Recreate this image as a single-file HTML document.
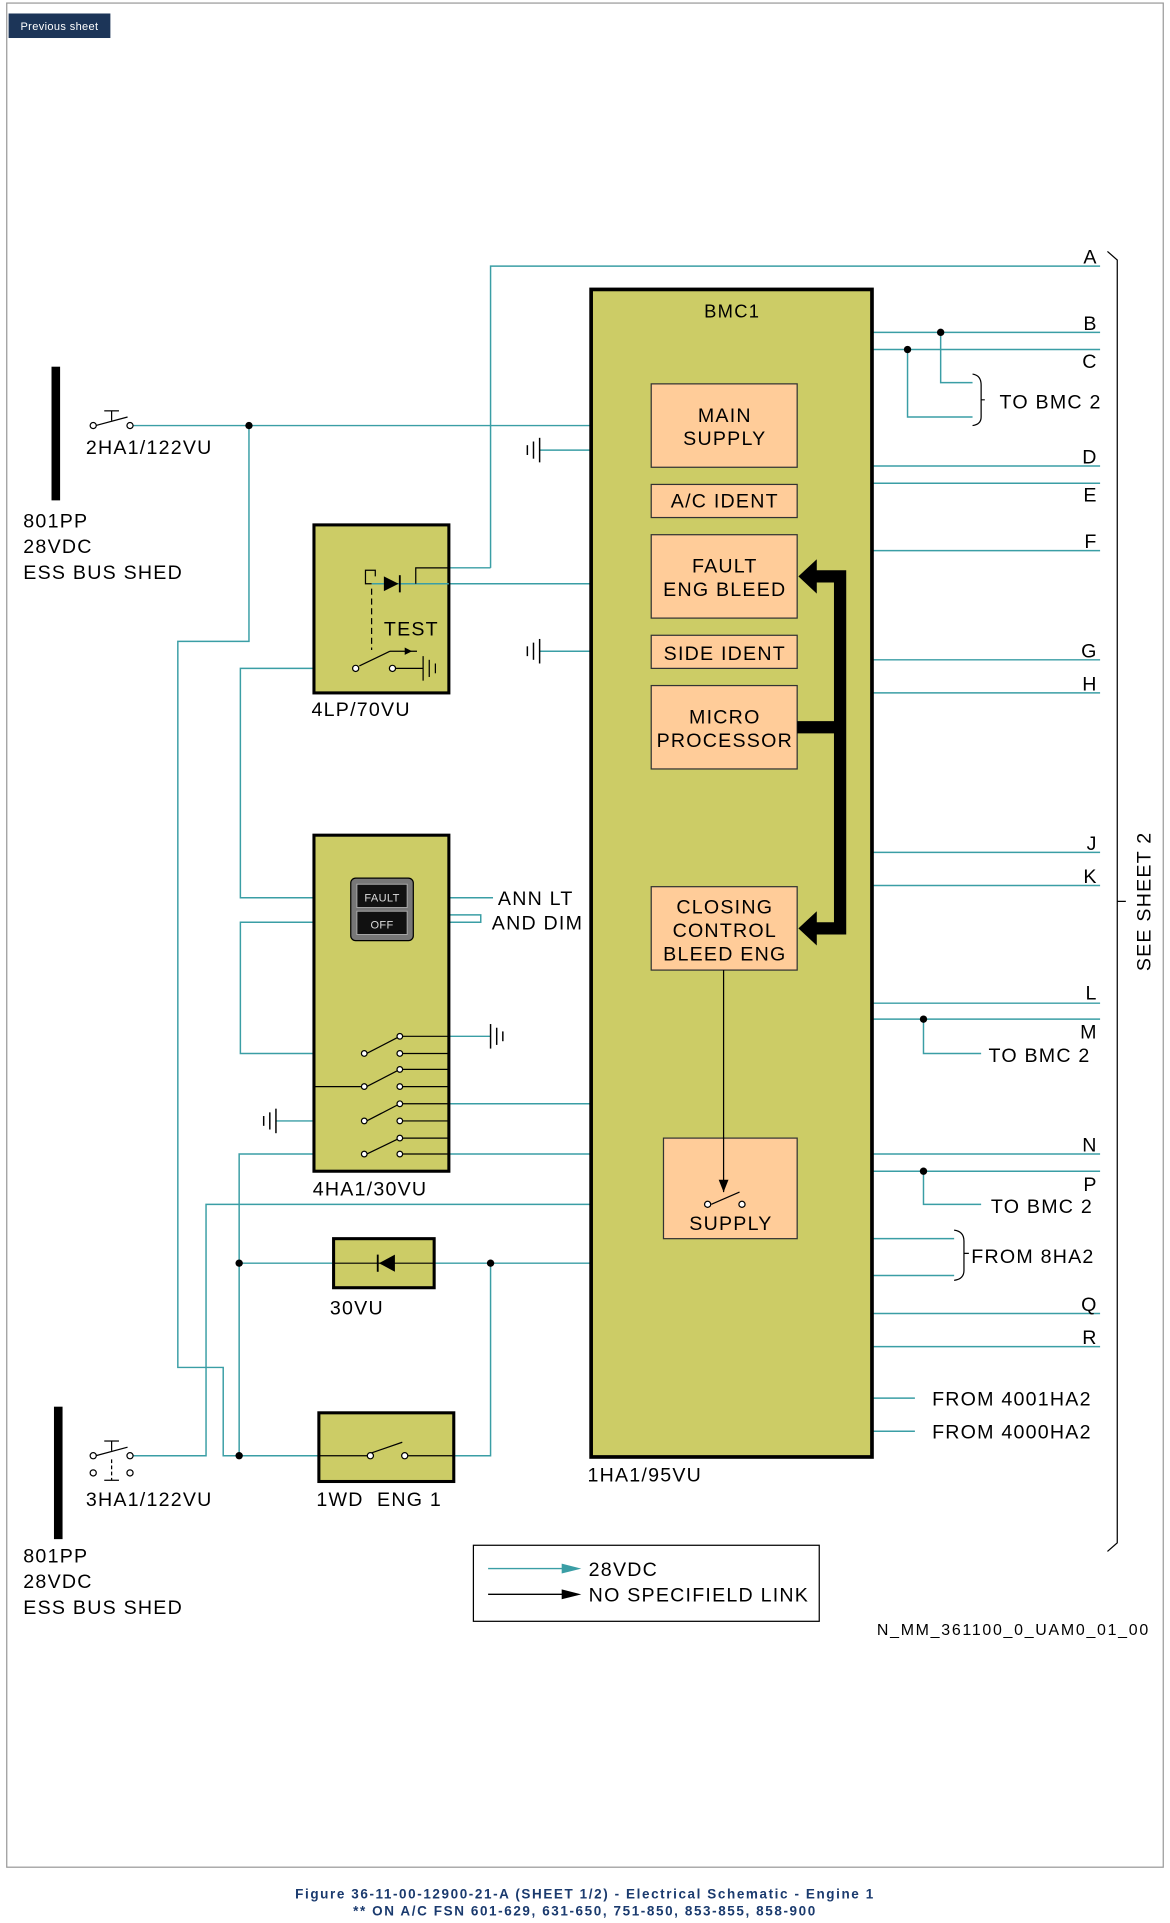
<!DOCTYPE html>
<html><head><meta charset="utf-8"><style>
html,body{margin:0;padding:0;background:#fff}
svg{display:block}
text{font-family:"Liberation Sans","DejaVu Sans",sans-serif;letter-spacing:1px}
</style></head><body>
<svg width="1170" height="1923" viewBox="0 0 954 1568" xmlns="http://www.w3.org/2000/svg">
<rect x="0" y="0" width="954" height="1568" fill="#fff"/>
<rect x="5.5" y="2.5" width="943" height="1520" fill="none" stroke="#999" stroke-width="1"/>
<rect x="7" y="11" width="83" height="20" fill="#1c3558"/>
<text x="48.5" y="24.5" font-size="9" fill="#fff" text-anchor="middle" style="letter-spacing:0.3px">Previous sheet</text>

<g fill="none" stroke="#3a9ea5" stroke-width="1.2">
<polyline points="400,463 400,217 897,217"/>
<line x1="711" y1="271" x2="897" y2="271"/>
<line x1="711" y1="285" x2="897" y2="285"/>
<polyline points="767,271 767,312 793,312"/>
<polyline points="740,285 740,340 793,340"/>
<line x1="711" y1="380" x2="897" y2="380"/>
<line x1="711" y1="394" x2="897" y2="394"/>
<line x1="711" y1="449" x2="897" y2="449"/>
<line x1="711" y1="538" x2="897" y2="538"/>
<line x1="711" y1="565" x2="897" y2="565"/>
<line x1="711" y1="695" x2="897" y2="695"/>
<line x1="711" y1="722" x2="897" y2="722"/>
<line x1="711" y1="818" x2="897" y2="818"/>
<line x1="711" y1="831" x2="897" y2="831"/>
<polyline points="753,831 753,859 800,859"/>
<line x1="711" y1="941" x2="897" y2="941"/>
<line x1="711" y1="955" x2="897" y2="955"/>
<polyline points="753,955 753,982 800,982"/>
<line x1="711" y1="1010" x2="778" y2="1010"/>
<line x1="711" y1="1040" x2="778" y2="1040"/>
<line x1="711" y1="1071" x2="897" y2="1071"/>
<line x1="711" y1="1098" x2="897" y2="1098"/>
<line x1="711" y1="1140" x2="746" y2="1140"/>
<line x1="711" y1="1167" x2="746" y2="1167"/>
<line x1="108" y1="347" x2="531" y2="347"/>
<polyline points="203,347 203,523 145,523 145,1115 182,1115 182,1187 260,1187"/>
<polyline points="440,367 531,367"/>
<polyline points="440,531 531,531"/>
<polyline points="400,463 366,463"/>
<line x1="303" y1="476" x2="531" y2="476"/>
<polyline points="290,545 196,545 196,732 286,732"/>
<polyline points="286,752 196,752 196,859 296,859"/>
<line x1="337" y1="732" x2="402" y2="732"/>
<polyline points="337,752 392,752 392,746 352,746"/>
<line x1="366" y1="900" x2="482" y2="900"/>
<line x1="225" y1="914" x2="296" y2="914"/>
<line x1="366" y1="845" x2="400" y2="845"/>
<polyline points="195,1187 195,941 618,941 618,982 605,982"/>
<polyline points="577,982 168,982 168,1187 108,1187"/>
<line x1="195" y1="1030" x2="272" y2="1030"/>
<line x1="354" y1="1030" x2="482" y2="1030"/>
<polyline points="370,1187 400,1187 400,1030"/>
</g>

<rect x="482" y="236" width="229" height="952" fill="#cccc66" stroke="#000" stroke-width="3"/>
<text x="597" y="259" font-size="15" text-anchor="middle">BMC1</text>
<g fill="#ffcc99" stroke="#333" stroke-width="1">
<rect x="531" y="313" width="119" height="68"/>
<rect x="531" y="395" width="119" height="27"/>
<rect x="531" y="436" width="119" height="68"/>
<rect x="531" y="518" width="119" height="27"/>
<rect x="531" y="559" width="119" height="68"/>
<rect x="531" y="723" width="119" height="68"/>
<rect x="541" y="928" width="109" height="82"/>
</g>
<g font-size="16" text-anchor="middle">
<text x="591" y="344">MAIN</text><text x="591" y="363">SUPPLY</text>
<text x="591" y="414">A/C IDENT</text>
<text x="591" y="467">FAULT</text><text x="591" y="486">ENG BLEED</text>
<text x="591" y="538">SIDE IDENT</text>
<text x="591" y="590">MICRO</text><text x="591" y="609">PROCESSOR</text>
<text x="591" y="745">CLOSING</text><text x="591" y="764">CONTROL</text><text x="591" y="783">BLEED ENG</text>
<text x="596" y="1003">SUPPLY</text>
</g>
<line x1="590" y1="791" x2="590" y2="972" stroke="#000" stroke-width="1"/>
<polygon points="586,962 594,962 590,972" fill="#000"/>
<line x1="580" y1="982" x2="603" y2="972" stroke="#000" stroke-width="1"/>
<circle cx="577" cy="982" r="2.5" fill="#fff" stroke="#000"/><circle cx="605" cy="982" r="2.5" fill="#fff" stroke="#000"/>
<polyline points="665,470 685,470 685,757 665,757" fill="none" stroke="#000" stroke-width="10"/>
<line x1="650" y1="593" x2="685" y2="593" stroke="#000" stroke-width="10"/>
<polygon points="651,470 666,456 666,484" fill="#000"/>
<polygon points="651,757 666,743 666,771" fill="#000"/>

<g font-size="16" text-anchor="end">
<text x="895" y="215">A</text><text x="895" y="269">B</text><text x="895" y="300">C</text>
<text x="895" y="378">D</text><text x="895" y="409">E</text><text x="895" y="447">F</text>
<text x="895" y="536">G</text><text x="895" y="563">H</text><text x="895" y="693">J</text>
<text x="895" y="720">K</text><text x="895" y="815">L</text><text x="895" y="847">M</text>
<text x="895" y="939">N</text><text x="895" y="971">P</text><text x="895" y="1069">Q</text>
<text x="895" y="1096">R</text>
</g>
<g font-size="16">
<text x="815" y="333">TO BMC 2</text><text x="806" y="866">TO BMC 2</text><text x="808" y="989">TO BMC 2</text>
<text x="792" y="1030">FROM 8HA2</text><text x="760" y="1146">FROM 4001HA2</text><text x="760" y="1173">FROM 4000HA2</text>
</g>
<g fill="none" stroke="#000" stroke-width="1">
<path d="M793,305 Q800,306 800,314 L800,326 L803,326 L800,326 L800,340 Q800,346 793,347"/>
<path d="M778,1003 Q786,1004 786,1012 L786,1022 L790,1022 L786,1022 L786,1036 Q786,1043 778,1044"/>
<path d="M903,205 L911,212 L911,735 L918,735 L911,735 L911,1258 L903,1265"/>
</g>
<text transform="translate(938,735) rotate(-90)" font-size="16" text-anchor="middle">SEE SHEET 2</text>

<g fill="#000">
<circle cx="767" cy="271" r="3"/><circle cx="740" cy="285" r="3"/><circle cx="753" cy="831" r="3"/><circle cx="753" cy="955" r="3"/>
<circle cx="203" cy="347" r="3"/><circle cx="339" cy="463" r="3"/><circle cx="352" cy="732" r="3"/><circle cx="352" cy="752" r="3"/>
<circle cx="195" cy="1030" r="3"/><circle cx="400" cy="1030" r="3"/><circle cx="195" cy="1187" r="3"/>
</g>

<rect x="42" y="299" width="7" height="109" fill="#000"/>
<rect x="44" y="1147" width="7" height="108" fill="#000"/>
<g fill="none" stroke="#000" stroke-width="1">
<line x1="78" y1="347" x2="104" y2="340"/><line x1="91" y1="343" x2="91" y2="335"/><line x1="85" y1="335" x2="97" y2="335"/>
<line x1="78" y1="1187" x2="104" y2="1180"/><line x1="91" y1="1183" x2="91" y2="1175"/><line x1="85" y1="1175" x2="97" y2="1175"/>
<line x1="91" y1="1190" x2="91" y2="1207" stroke-dasharray="3,2"/><line x1="85" y1="1207" x2="97" y2="1207"/>
</g>
<g fill="#fff" stroke="#000"><circle cx="76" cy="347" r="2.5"/><circle cx="106" cy="347" r="2.5"/><circle cx="76" cy="1187" r="2.5"/><circle cx="106" cy="1187" r="2.5"/><circle cx="76" cy="1201" r="2.5"/><circle cx="106" cy="1201" r="2.5"/></g>
<g font-size="16">
<text x="70" y="370">2HA1/122VU</text>
<text x="19" y="430">801PP</text><text x="19" y="451">28VDC</text><text x="19" y="472">ESS BUS SHED</text>
<text x="70" y="1228">3HA1/122VU</text>
<text x="19" y="1274">801PP</text><text x="19" y="1295">28VDC</text><text x="19" y="1316">ESS BUS SHED</text>
</g>

<g stroke="#000" stroke-width="1.2">
<line x1="440" y1="357" x2="440" y2="377"/><line x1="435" y1="360" x2="435" y2="374"/><line x1="430" y1="363" x2="430" y2="371"/>
<line x1="440" y1="521" x2="440" y2="541"/><line x1="435" y1="524" x2="435" y2="538"/><line x1="430" y1="527" x2="430" y2="535"/>
<line x1="400" y1="835" x2="400" y2="855"/><line x1="405" y1="838" x2="405" y2="852"/><line x1="410" y1="841" x2="410" y2="849"/>
<line x1="225" y1="904" x2="225" y2="924"/><line x1="220" y1="907" x2="220" y2="921"/><line x1="215" y1="910" x2="215" y2="918"/>
</g>

<rect x="256" y="428" width="110" height="137" fill="#cccc66" stroke="#000" stroke-width="2.5"/>
<g stroke="#000" fill="none" stroke-width="1">
<line x1="303" y1="476" x2="366" y2="476" stroke="#3a9ea5" stroke-width="1.2"/>
<polyline points="366,463 339,463 339,476"/>
<path d="M303,476 L298,476 L298,465 L306,465 L306,470"/>
<line x1="303" y1="480" x2="303" y2="530" stroke-dasharray="5,3"/>
<line x1="293" y1="543" x2="318" y2="531"/>
<line x1="318" y1="531" x2="340" y2="531"/>
<line x1="345" y1="535" x2="345" y2="555"/><line x1="350" y1="538" x2="350" y2="552"/><line x1="355" y1="541" x2="355" y2="549"/>
<line x1="320" y1="545" x2="345" y2="545"/>
</g>
<polygon points="313,470 313,482 325,476" fill="#000"/><line x1="326" y1="469" x2="326" y2="483" stroke="#000" stroke-width="1.5"/>
<polygon points="330,528 336,531 330,534" fill="#000"/>
<g fill="#fff" stroke="#000"><circle cx="290" cy="545" r="2.5"/><circle cx="320" cy="545" r="2.5"/></g>
<text x="313" y="518" font-size="16">TEST</text>
<text x="254" y="584" font-size="16">4LP/70VU</text>

<rect x="256" y="681" width="110" height="274" fill="#cccc66" stroke="#000" stroke-width="2.5"/>
<rect x="286" y="716" width="51" height="51" rx="4" fill="#777" stroke="#000"/>
<rect x="291" y="721" width="41" height="19" fill="#111" stroke="#aaa" stroke-width="0.8"/>
<rect x="291" y="743" width="41" height="19" fill="#111" stroke="#aaa" stroke-width="0.8"/>
<text x="311.5" y="735" font-size="9" fill="#ddd" text-anchor="middle" style="letter-spacing:0.3px">FAULT</text>
<text x="311.5" y="757" font-size="9" fill="#ddd" text-anchor="middle" style="letter-spacing:0.3px">OFF</text>
<g stroke="#000" stroke-width="1" fill="none">
<line x1="299" y1="859" x2="326" y2="845"/><line x1="299" y1="886" x2="326" y2="872"/>
<line x1="299" y1="914" x2="326" y2="900"/><line x1="299" y1="941" x2="326" y2="928"/>
<line x1="328" y1="845" x2="366" y2="845"/><line x1="328" y1="859" x2="366" y2="859"/>
<line x1="328" y1="872" x2="366" y2="872"/><line x1="328" y1="886" x2="366" y2="886"/>
<line x1="328" y1="900" x2="366" y2="900"/><line x1="328" y1="914" x2="366" y2="914"/>
<line x1="328" y1="928" x2="366" y2="928"/><line x1="328" y1="941" x2="366" y2="941"/>
<line x1="256" y1="886" x2="296" y2="886"/>
</g>
<g fill="#fff" stroke="#000">
<circle cx="297" cy="859" r="2.3"/><circle cx="297" cy="886" r="2.3"/><circle cx="297" cy="914" r="2.3"/><circle cx="297" cy="941" r="2.3"/>
<circle cx="326" cy="845" r="2.3"/><circle cx="326" cy="859" r="2.3"/><circle cx="326" cy="872" r="2.3"/><circle cx="326" cy="886" r="2.3"/>
<circle cx="326" cy="900" r="2.3"/><circle cx="326" cy="914" r="2.3"/><circle cx="326" cy="928" r="2.3"/><circle cx="326" cy="941" r="2.3"/>
</g>
<text x="406" y="738" font-size="16">ANN LT</text><text x="401" y="758" font-size="16">AND DIM</text>
<text x="255" y="975" font-size="16">4HA1/30VU</text>

<rect x="272" y="1010" width="82" height="40" fill="#cccc66" stroke="#000" stroke-width="2.5"/>
<line x1="272" y1="1030" x2="354" y2="1030" stroke="#000"/>
<polygon points="322,1023 322,1037 309,1030" fill="#000"/><line x1="308" y1="1023" x2="308" y2="1037" stroke="#000" stroke-width="1.5"/>
<text x="269" y="1072" font-size="16">30VU</text>

<rect x="260" y="1152" width="110" height="56" fill="#cccc66" stroke="#000" stroke-width="2.5"/>
<g stroke="#000" fill="none"><line x1="260" y1="1187" x2="300" y2="1187"/><line x1="302" y1="1185" x2="328" y2="1176"/><line x1="330" y1="1187" x2="370" y2="1187"/></g>
<g fill="#fff" stroke="#000"><circle cx="302" cy="1187" r="2.5"/><circle cx="330" cy="1187" r="2.5"/></g>
<text x="258" y="1228" font-size="16" xml:space="preserve">1WD  ENG 1</text>
<text x="479" y="1208" font-size="16">1HA1/95VU</text>

<rect x="386" y="1260" width="282" height="62" fill="#fff" stroke="#000"/>
<line x1="398" y1="1279" x2="462" y2="1279" stroke="#3a9ea5" stroke-width="1.2"/>
<polygon points="458,1275 474,1279 458,1283" fill="#3a9ea5"/>
<line x1="398" y1="1300" x2="462" y2="1300" stroke="#000" stroke-width="1.2"/>
<polygon points="458,1296 474,1300 458,1304" fill="#000"/>
<text x="480" y="1285" font-size="16">28VDC</text>
<text x="480" y="1306" font-size="16">NO SPECIFIELD LINK</text>
<text x="715" y="1333" font-size="13" style="letter-spacing:1.4px">N_MM_361100_0_UAM0_01_00</text>

<text x="477" y="1548" font-size="11" font-weight="bold" fill="#1a3a6e" text-anchor="middle" style="letter-spacing:1.3px">Figure 36-11-00-12900-21-A (SHEET 1/2) - Electrical Schematic - Engine 1</text>
<text x="477" y="1562" font-size="11" font-weight="bold" fill="#1a3a6e" text-anchor="middle" style="letter-spacing:1.3px">** ON A/C FSN 601-629, 631-650, 751-850, 853-855, 858-900</text>
</svg>
</body></html>
